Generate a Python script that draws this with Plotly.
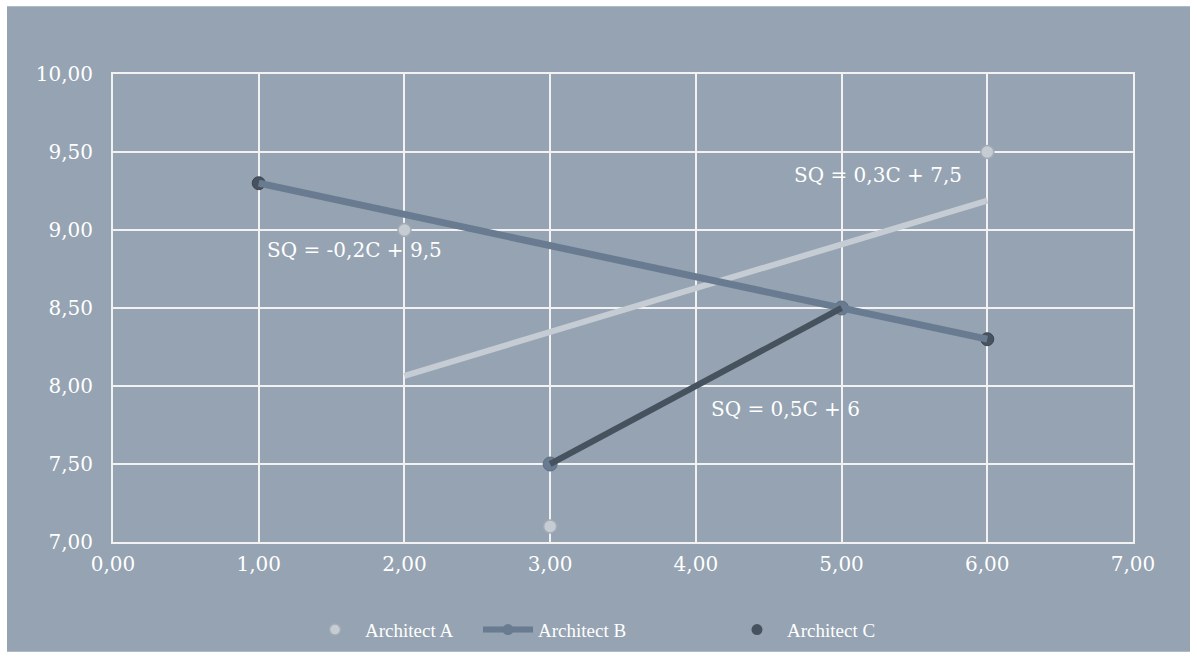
import numpy as np
import plotly.graph_objects as go

# Observations per architect (C on the x axis, SQ on the y axis)
arch_a_x = [2.0, 3.0, 6.0]
arch_a_y = [9.0, 7.1, 9.5]

arch_b_x = [3.0, 5.0]
arch_b_y = [7.5, 8.5]

arch_c_x = [1.0, 6.0]
arch_c_y = [9.3, 8.3]

# Trendline equations as printed on the chart
eq_labels = ["SQ = -0,2C + 9,5", "SQ = 0,3C + 7,5", "SQ = 0,5C + 6"]
eq_pos_x = [1.04, 4.66, 4.09]
eq_pos_y = [8.87, 9.35, 7.85]

BG = "#95a3b2"
COL_A = "#c5ccd4"
COL_A_EDGE = "#a3abb4"
COL_B = "#687b90"
COL_C = "#47525f"
NUM_FONT = "DejaVu Serif"
TEXT_FONT = "Liberation Serif"


def fit_line(xs, ys):
    slope, intercept = np.polyfit(xs, ys, 1)
    x_line = np.array([min(xs), max(xs)])
    return x_line, slope * x_line + intercept


fig = go.Figure()

# Point markers sit underneath the fitted lines
fig.add_trace(go.Scatter(
    x=arch_c_x, y=arch_c_y, mode="markers", showlegend=False,
    marker=dict(size=13, color=COL_C, line=dict(width=1, color="#3c4650")),
))
fig.add_trace(go.Scatter(
    x=arch_b_x, y=arch_b_y, mode="markers", showlegend=False,
    marker=dict(size=14, color=COL_B, line=dict(width=1, color="#5c6e82")),
))

# Fitted lines
ax_line, ay_line = fit_line(arch_a_x, arch_a_y)
fig.add_trace(go.Scatter(
    x=ax_line, y=ay_line, mode="lines", showlegend=False,
    line=dict(color=COL_A, width=6),
))
cx_line, cy_line = fit_line(arch_c_x, arch_c_y)
fig.add_trace(go.Scatter(
    x=cx_line, y=cy_line, mode="lines", showlegend=False,
    line=dict(color=COL_B, width=7),
))
bx_line, by_line = fit_line(arch_b_x, arch_b_y)
fig.add_trace(go.Scatter(
    x=bx_line, y=by_line, mode="lines", showlegend=False,
    line=dict(color=COL_C, width=6),
))

# Architect A points on top
fig.add_trace(go.Scatter(
    x=arch_a_x, y=arch_a_y, mode="markers", showlegend=False,
    marker=dict(size=13, color=COL_A, line=dict(width=1.5, color=COL_A_EDGE)),
))

# Legend entries
fig.add_trace(go.Scatter(
    x=[None], y=[None], mode="markers", name="Architect A", legend="legend",
    marker=dict(size=11, color=COL_A, line=dict(width=1.5, color=COL_A_EDGE)),
))
fig.add_trace(go.Scatter(
    x=[None], y=[None], mode="lines+markers", name="Architect B", legend="legend",
    line=dict(color=COL_B, width=6), marker=dict(size=11, color=COL_B),
))
fig.add_trace(go.Scatter(
    x=[None], y=[None], mode="markers", name="Architect C", legend="legend2",
    marker=dict(size=11, color=COL_C),
))

for text, x, y in zip(eq_labels, eq_pos_x, eq_pos_y):
    fig.add_annotation(
        x=x, y=y, text=text, showarrow=False, xanchor="left", yanchor="middle",
        font=dict(family=NUM_FONT, size=20, color="white"),
    )

# Slate panel with a thin white frame around it
L, R, T, B = 113, 1133, 74, 543
pw, ph = R - L, B - T
fig.add_shape(
    type="rect", xref="paper", yref="paper", layer="below",
    x0=(7 - L) / pw, x1=(1190 - L) / pw, y0=(B - 653) / ph, y1=(B - 6) / ph,
    fillcolor=BG, line=dict(width=0),
)

axis_common = dict(
    showgrid=True, gridcolor="#f2f2f2", gridwidth=2,
    showline=True, linecolor="#f2f2f2", linewidth=2, mirror=True,
    zeroline=False, tickformat=".2f", ticks="",
    tickfont=dict(family=NUM_FONT, size=20, color="white"),
)

fig.update_xaxes(range=[0, 7], dtick=1, ticklabelstandoff=3, **axis_common)
fig.update_yaxes(range=[7, 10], dtick=0.5, ticklabelstandoff=14, **axis_common)

legend_style = dict(
    orientation="h", xanchor="left", y=-0.185, yanchor="middle",
    font=dict(family=TEXT_FONT, size=19, color="white"),
    bgcolor="rgba(0,0,0,0)", itemwidth=50,
)

fig.update_layout(
    width=1197, height=660,
    margin=dict(l=L, r=1197 - R, t=T, b=660 - B),
    paper_bgcolor="white", plot_bgcolor=BG,
    separators=",.",
    font=dict(family=TEXT_FONT, size=19, color="white"),
    legend=dict(x=(305 - L) / pw, entrywidth=108, entrywidthmode="pixels",
                **legend_style),
    legend2=dict(x=(727 - L) / pw, **legend_style),
)

fig.write_html("out.html")
